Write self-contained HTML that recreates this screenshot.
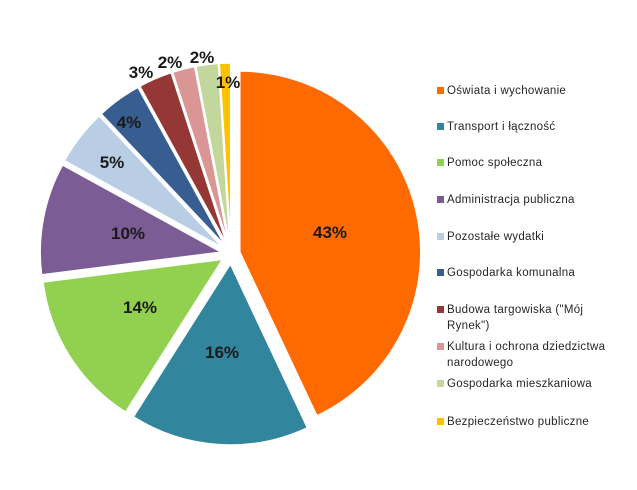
<!DOCTYPE html>
<html><head><meta charset="utf-8"><style>
body{margin:0;background:#fff;width:637px;height:490px;overflow:hidden;font-family:"Liberation Sans",sans-serif}
.lg{position:absolute;left:437px;font-size:11.5px;color:#262626;line-height:16px;letter-spacing:0.3px}
.lg i{position:absolute;left:0;top:4px;width:7px;height:7px}
.lg span{display:block;margin-left:10px;width:162px}
</style></head><body>
<svg id="s" width="637" height="490" style="position:absolute;left:0;top:0"></svg>
<div id="leg"></div>
<script>
var vals=[43,16,14,10,5,4,3,2,2,1];
var cols=["#FF6A00","#31859C","#92D050","#7B5C94","#B9CDE5","#375D91","#953735","#D99694","#C3D69B","#FFC000"];
var labs=[[330,232],[222,352],[140,307],[128,233],[112,162],[129,122],[141,72],[170,62],[202,57],[228,82]];
var cx=231,cy=254,r=181,off=10,a=0,h="";
vals.forEach(function(v,i){
 var a0=a,a1=a+v/100*2*Math.PI,m=(a0+a1)/2;a=a1;
 var o=i==0?9:off;
 var ox=cx+o*Math.sin(m),oy=cy-o*Math.cos(m);
 var x0=ox+r*Math.sin(a0),y0=oy-r*Math.cos(a0),x1=ox+r*Math.sin(a1),y1=oy-r*Math.cos(a1);
 h+='<path d="M'+ox+' '+oy+'L'+x0+' '+y0+'A'+r+' '+r+' 0 '+((a1-a0)>Math.PI?1:0)+' 1 '+x1+' '+y1+'Z" fill="'+cols[i]+'" stroke="#fff" stroke-width="1.5"/>';
});
labs.forEach(function(p,i){h+='<text x="'+p[0]+'" y="'+(p[1]+6)+'" text-anchor="middle" font-family="Liberation Sans, sans-serif" font-weight="bold" font-size="17" fill="#1a1a1a">'+vals[i]+'%</text>';});
document.getElementById('s').innerHTML=h;
var names=["Oświata i wychowanie","Transport i łączność","Pomoc społeczna","Administracja publiczna","Pozostałe wydatki","Gospodarka komunalna","Budowa targowiska (\"Mój Rynek\")","Kultura i ochrona dziedzictwa narodowego","Gospodarka mieszkaniowa","Bezpieczeństwo publiczne"];
var ys=[83,119,155,192,229,265,302,339,376,414],l="";
names.forEach(function(n,i){l+='<div class="lg" style="top:'+ys[i]+'px"><i style="background:'+cols[i]+'"></i><span>'+n+'</span></div>';});
document.getElementById('leg').innerHTML=l;
</script>
</body></html>
